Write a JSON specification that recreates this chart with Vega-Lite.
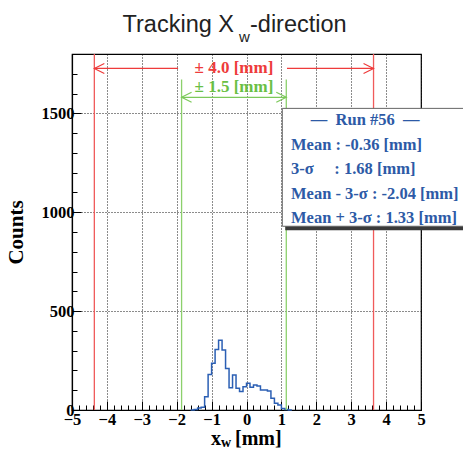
{
  "$schema": "https://vega.github.io/schema/vega-lite/v6.json",
  "width": 349,
  "height": 356,
  "autosize": {"type": "none"},
  "padding": {"left": 72, "top": 54, "right": 42, "bottom": 45},
  "background": "white",
  "config": {"view": {"stroke": "black", "strokeWidth": 1.2}, "font": "Liberation Serif"},
  "layer": [
    {
      "data": {"values": [
        {"x": -1.6, "count": 0}, {"x": -1.5, "count": 2}, {"x": -1.4, "count": 10}, {"x": -1.3, "count": 14},
        {"x": -1.2, "count": 67}, {"x": -1.1, "count": 180}, {"x": -1.0, "count": 236}, {"x": -0.9, "count": 306},
        {"x": -0.8, "count": 353}, {"x": -0.7, "count": 303}, {"x": -0.6, "count": 210}, {"x": -0.5, "count": 113},
        {"x": -0.4, "count": 177}, {"x": -0.3, "count": 110}, {"x": -0.2, "count": 93}, {"x": -0.1, "count": 118},
        {"x": 0.0, "count": 135}, {"x": 0.1, "count": 115}, {"x": 0.2, "count": 126}, {"x": 0.3, "count": 121},
        {"x": 0.4, "count": 101}, {"x": 0.5, "count": 101}, {"x": 0.6, "count": 96}, {"x": 0.7, "count": 59},
        {"x": 0.8, "count": 34}, {"x": 0.9, "count": 25}, {"x": 1.0, "count": 8}, {"x": 1.1, "count": 3},
        {"x": 1.2, "count": 0}, {"x": 1.3, "count": 0}
      ]},
      "mark": {"type": "line", "interpolate": "step-after", "color": "#2b5fb4", "strokeWidth": 1.5},
      "encoding": {
        "x": {
          "field": "x", "type": "quantitative",
          "scale": {"domain": [-5, 5], "nice": false, "zero": false},
          "axis": {
            "values": [-5,-4.8,-4.6,-4.4,-4.2,-4,-3.8,-3.6,-3.4,-3.2,-3,-2.8,-2.6,-2.4,-2.2,-2,-1.8,-1.6,-1.4,-1.2,-1,-0.8,-0.6,-0.4,-0.2,0,0.2,0.4,0.6,0.8,1,1.2,1.4,1.6,1.8,2,2.2,2.4,2.6,2.8,3,3.2,3.4,3.6,3.8,4,4.2,4.4,4.6,4.8,5],
            "tickCount": 200,
            "labelExpr": "datum.value % 1 === 0 ? format(datum.value, 'd') : ''",
            "tickSize": {"condition": {"test": "datum.value % 1 === 0", "value": -9}, "value": -5},
            "gridOpacity": {"condition": {"test": "datum.value % 1 === 0", "value": 0.9}, "value": 0},
            "grid": true, "gridDash": [1, 2], "gridColor": "black", "gridWidth": 1,
            "labelPadding": 10, "labelFont": "Liberation Serif", "labelFontWeight": "bold", "labelFontSize": 16.5, "labelColor": "black",
            "labelFlush": false, "labelOverlap": false, "labelBound": false,
            "domainColor": "black", "domainWidth": 1.2, "tickColor": "black", "tickWidth": 1,
            "title": null
          }
        },
        "y": {
          "field": "count", "type": "quantitative",
          "scale": {"domain": [0, 1800], "nice": false, "zero": true},
          "axis": {
            "values": [0,100,200,300,400,500,600,700,800,900,1000,1100,1200,1300,1400,1500,1600,1700],
            "tickCount": 200,
            "labelExpr": "datum.value % 500 === 0 ? format(datum.value, 'd') : ''",
            "tickSize": {"condition": {"test": "datum.value % 500 === 0", "value": -9}, "value": -5},
            "gridOpacity": {"condition": {"test": "datum.value % 500 === 0", "value": 0.9}, "value": 0},
            "grid": true, "gridDash": [1, 2], "gridColor": "black", "gridWidth": 1,
            "labelPadding": 7, "labelFont": "Liberation Serif", "labelFontWeight": "bold", "labelFontSize": 16.5, "labelColor": "black",
            "labelOverlap": false, "labelBound": false,
            "domainColor": "black", "domainWidth": 1.2, "tickColor": "black", "tickWidth": 1,
            "title": "Counts", "titleFont": "Liberation Serif", "titleFontWeight": "bold", "titleFontSize": 21, "titleColor": "black", "titlePadding": 15
          }
        }
      }
    },
    {
      "data": {"values": [{"limit": -4.36}, {"limit": 3.64}]},
      "mark": {"type": "rule", "color": "#f05a5a", "strokeWidth": 1.3},
      "encoding": {"x": {"field": "limit", "type": "quantitative"}, "y": {"datum": 0}, "y2": {"datum": 1800}}
    },
    {
      "data": {"values": [{"limit": -1.86}, {"limit": 1.14}]},
      "mark": {"type": "rule", "color": "#8cd06c", "strokeWidth": 1.3},
      "encoding": {"x": {"field": "limit", "type": "quantitative"}, "y": {"datum": 0}, "y2": {"datum": 1671}}
    },
    {
      "data": {"values": [{}]},
      "mark": {"type": "rule", "color": "#ee3b3b", "strokeWidth": 1.2},
      "encoding": {"x": {"datum": -4.36}, "x2": {"datum": -1.96}, "y": {"datum": 1727}}
    },
    {
      "data": {"values": [{}]},
      "mark": {"type": "rule", "color": "#ee3b3b", "strokeWidth": 1.2},
      "encoding": {"x": {"datum": 1.16}, "x2": {"datum": 3.64}, "y": {"datum": 1727}}
    },
    {
      "data": {"values": [{}]},
      "mark": {"type": "point", "shape": "M1,-0.5L0,0L1,0.5", "filled": false, "color": "#ee3b3b", "strokeWidth": 1.2, "size": 400, "opacity": 1},
      "encoding": {"x": {"datum": -4.36}, "y": {"datum": 1727}}
    },
    {
      "data": {"values": [{}]},
      "mark": {"type": "point", "shape": "M-1,-0.5L0,0L-1,0.5", "filled": false, "color": "#ee3b3b", "strokeWidth": 1.2, "size": 400, "opacity": 1},
      "encoding": {"x": {"datum": 3.64}, "y": {"datum": 1727}}
    },
    {
      "data": {"values": [{}]},
      "mark": {"type": "rule", "color": "#7cc95a", "strokeWidth": 1.2},
      "encoding": {"x": {"datum": -1.86}, "x2": {"datum": 1.14}, "y": {"datum": 1581}}
    },
    {
      "data": {"values": [{}]},
      "mark": {"type": "point", "shape": "M1,-0.5L0,0L1,0.5", "filled": false, "color": "#7cc95a", "strokeWidth": 1.2, "size": 400, "opacity": 1},
      "encoding": {"x": {"datum": -1.86}, "y": {"datum": 1581}}
    },
    {
      "data": {"values": [{}]},
      "mark": {"type": "point", "shape": "M-1,-0.5L0,0L-1,0.5", "filled": false, "color": "#7cc95a", "strokeWidth": 1.2, "size": 400, "opacity": 1},
      "encoding": {"x": {"datum": 1.14}, "y": {"datum": 1581}}
    },
    {
      "data": {"values": [{}]},
      "mark": {"type": "text", "text": "± 4.0 [mm]", "font": "Liberation Serif", "fontWeight": "bold", "fontSize": 17, "color": "#ee3b3b", "align": "center", "baseline": "middle"},
      "encoding": {"x": {"datum": -0.36}, "y": {"datum": 1727}}
    },
    {
      "data": {"values": [{}]},
      "mark": {"type": "text", "text": "± 1.5 [mm]", "font": "Liberation Serif", "fontWeight": "bold", "fontSize": 17, "color": "#6abf45", "align": "center", "baseline": "middle"},
      "encoding": {"x": {"datum": -0.36}, "y": {"datum": 1631}}
    },
    {
      "data": {"values": [{}]},
      "mark": {"type": "rect", "color": "#3a3a3a", "opacity": 1},
      "encoding": {"x": {"datum": 1.11}, "x2": {"datum": 6.6}, "y": {"datum": 1510}, "y2": {"datum": 909}}
    },
    {
      "data": {"values": [{}]},
      "mark": {"type": "rect", "fill": "white", "stroke": "#666666", "strokeWidth": 1, "opacity": 1},
      "encoding": {"x": {"datum": 1.026}, "x2": {"datum": 6.5}, "y": {"datum": 1525}, "y2": {"datum": 929}}
    },
    {
      "data": {"values": [{}]},
      "mark": {"type": "text", "text": "—\u00a0\u00a0Run #56\u00a0\u00a0—", "font": "Liberation Serif", "fontWeight": "bold", "fontSize": 16.5, "color": "#2d5aa6", "align": "center", "baseline": "alphabetic"},
      "encoding": {"x": {"datum": 3.4}, "y": {"datum": 1441}}
    },
    {
      "data": {"values": [{}]},
      "mark": {"type": "text", "text": ["Mean : -0.36 [mm]", "3-σ\u00a0\u00a0\u00a0\u00a0\u00a0: 1.68 [mm]", "Mean - 3-σ : -2.04 [mm]", "Mean + 3-σ : 1.33 [mm]"], "lineHeight": 24.3, "font": "Liberation Serif", "fontWeight": "bold", "fontSize": 16.5, "color": "#2d5aa6", "align": "left", "baseline": "alphabetic"},
      "encoding": {"x": {"datum": 1.275}, "y": {"datum": 1315}}
    },
    {
      "data": {"values": [{}]},
      "mark": {"type": "text", "text": "Tracking X", "font": "Liberation Sans", "fontSize": 23.5, "color": "#222222", "align": "right", "baseline": "alphabetic"},
      "encoding": {"x": {"datum": -0.358}, "y": {"datum": 1913}}
    },
    {
      "data": {"values": [{}]},
      "mark": {"type": "text", "text": "w", "font": "Liberation Sans", "fontSize": 15, "color": "#222222", "align": "left", "baseline": "alphabetic"},
      "encoding": {"x": {"datum": -0.215}, "y": {"datum": 1861}}
    },
    {
      "data": {"values": [{}]},
      "mark": {"type": "text", "text": "-direction", "font": "Liberation Sans", "fontSize": 23.5, "color": "#222222", "align": "left", "baseline": "alphabetic"},
      "encoding": {"x": {"datum": 0.1}, "y": {"datum": 1913}}
    },
    {
      "data": {"values": [{}]},
      "mark": {"type": "text", "text": "x", "font": "Liberation Serif", "fontWeight": "bold", "fontSize": 20, "color": "black", "align": "right", "baseline": "alphabetic"},
      "encoding": {"x": {"datum": -0.731}, "y": {"datum": -177}}
    },
    {
      "data": {"values": [{}]},
      "mark": {"type": "text", "text": "w", "font": "Liberation Serif", "fontWeight": "bold", "fontSize": 14, "color": "black", "align": "left", "baseline": "alphabetic"},
      "encoding": {"x": {"datum": -0.731}, "y": {"datum": -187}}
    },
    {
      "data": {"values": [{}]},
      "mark": {"type": "text", "text": "[mm]", "font": "Liberation Serif", "fontWeight": "bold", "fontSize": 20, "color": "black", "align": "left", "baseline": "alphabetic"},
      "encoding": {"x": {"datum": -0.33}, "y": {"datum": -177}}
    }
  ]
}
